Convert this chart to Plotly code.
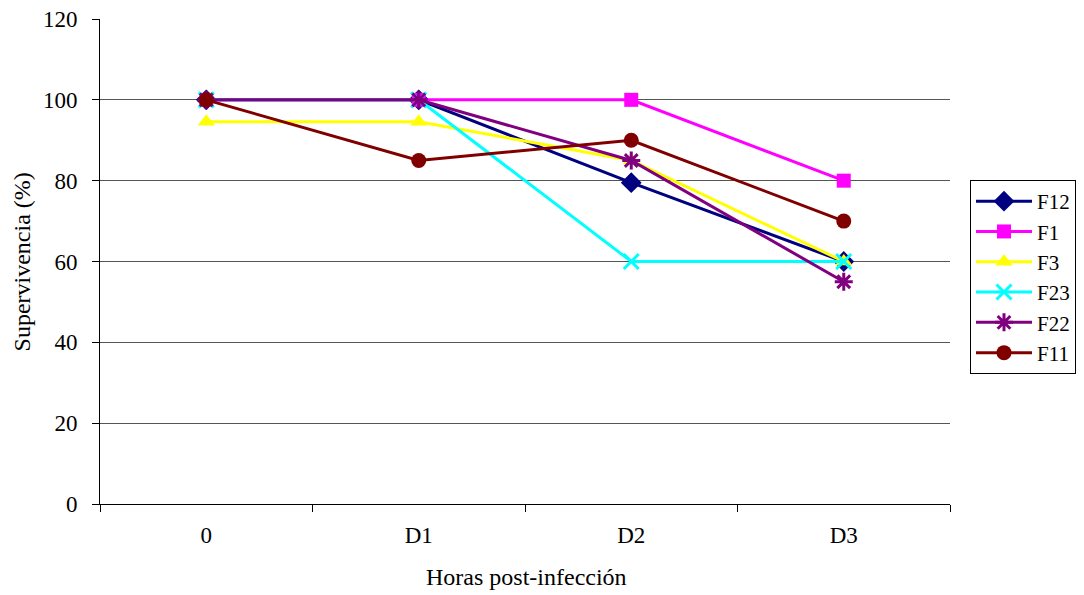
import plotly.graph_objects as go

categories = ["0", "D1", "D2", "D3"]
series_names = ["F12", "F1", "F3", "F23", "F22", "F11"]
F12 = [100, 100, 79.5, 60]
F1 = [100, 100, 100, 80]
F3 = [94.6, 94.6, 85, 60]
F23 = [100, 100, 60, 60]
F22 = [100, 100, 85, 55]
F11 = [100, 85, 90, 70]
y_ticks = [0, 20, 40, 60, 80, 100, 120]

values = [F12, F1, F3, F23, F22, F11]
colors = ["#000080", "#FF00FF", "#FFFF00", "#00FFFF", "#800080", "#800000"]
symbols = ["diamond", "square", "triangle-up", "x-thin", "asterisk", "circle"]
sizes = [16, 14, 15, 15, 15, 15]

FONT = "Liberation Serif, Times New Roman, serif"
W, H = 1076, 587

fig = go.Figure()
for name, vals, c, s, sz in zip(series_names, values, colors, symbols, sizes):
    thin = s in ("x-thin", "asterisk")
    fig.add_trace(go.Scatter(
        x=categories, y=vals, name=name, mode="lines+markers",
        line=dict(color=c, width=3),
        marker=dict(symbol=s, size=sz, color=c,
                    line=dict(color=c, width=3 if thin else 0)),
    ))

fig.update_layout(
    width=W, height=H,
    margin=dict(l=92, r=134, t=11, b=91),
    paper_bgcolor="white", plot_bgcolor="white",
    font=dict(family=FONT, size=23, color="black"),
    showlegend=True,
    legend=dict(xref="container", yref="container",
                x=962 / W, y=1 - 172 / H, xanchor="left", yanchor="top",
                bordercolor="black", borderwidth=1,
                font=dict(family=FONT, size=21, color="black"),
                itemwidth=56, tracegroupgap=0),
    xaxis=dict(
        type="category", categoryorder="array", categoryarray=categories,
        range=[-0.5, 3.5], showgrid=False, showline=True, linecolor="black",
        linewidth=1, ticks="outside", tickson="boundaries", ticklen=7,
        tickcolor="black", zeroline=False, automargin=False,
        ticklabelstandoff=10, tickfont=dict(size=23),
    ),
    yaxis=dict(
        range=[0, 120], tickvals=y_ticks, showgrid=True, gridcolor="#555555",
        gridwidth=1, showline=True, linecolor="black", linewidth=1,
        ticks="outside", ticklen=7, tickcolor="black", zeroline=False,
        automargin=False, ticklabeloverflow="allow", ticklabelstandoff=10,
        tickfont=dict(size=23),
    ),
    annotations=[
        dict(text="Horas post-infección", xref="paper", yref="paper",
             x=0.502, y=-0.1505, xanchor="center", yanchor="middle",
             showarrow=False, font=dict(family=FONT, size=24, color="black")),
        dict(text="Supervivencia (%)", xref="paper", yref="paper",
             x=-0.0918, y=0.5, xanchor="center", yanchor="middle",
             textangle=-90, showarrow=False,
             font=dict(family=FONT, size=24, color="black")),
    ],
)

fig.write_html("out.html")
